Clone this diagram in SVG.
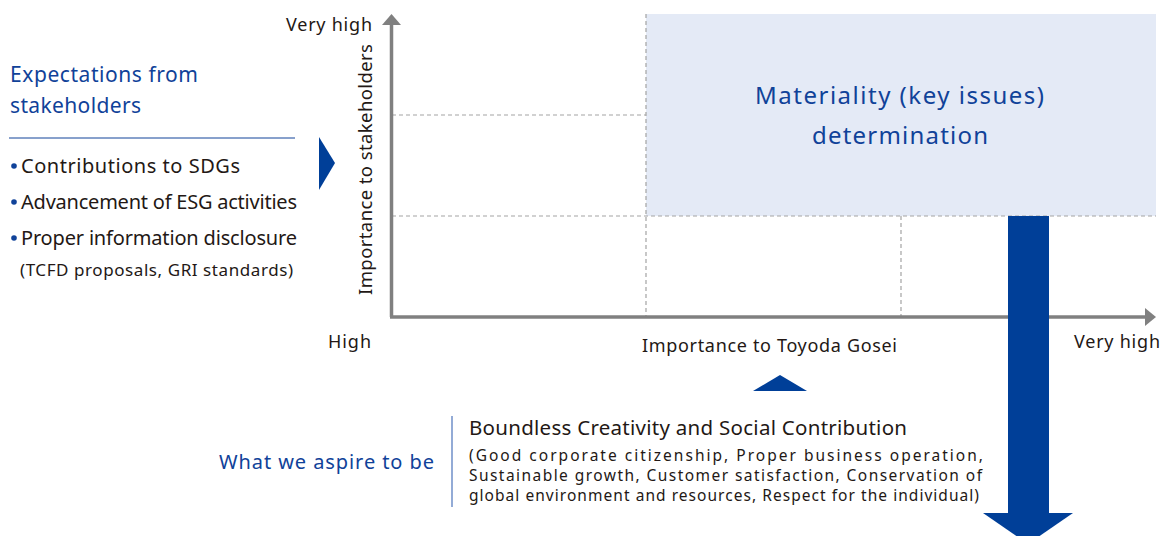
<svg xmlns="http://www.w3.org/2000/svg" width="1162" height="536" viewBox="0 0 1162 536">
<style>
text{font-family:"Noto Sans","Open Sans",sans-serif;}
.blue{fill:#104299;}
.dark{fill:#231815;}
.dash{stroke:#a3a3a3;stroke-width:1.2;stroke-dasharray:4 3;fill:none;}
.axis{stroke:#808080;stroke-width:3.5;fill:none;}
</style>
<rect x="646" y="14" width="510" height="202" fill="#e4eaf6"/>
<g id="connectors">
<line class="dash" x1="392" y1="115" x2="646" y2="115"/>
<line class="dash" x1="392" y1="216" x2="1156" y2="216"/>
<line class="dash" x1="646" y1="14" x2="646" y2="317"/>
<line class="dash" x1="901" y1="216" x2="901" y2="317"/>
<line class="axis" x1="391.5" y1="24" x2="391.5" y2="317"/>
<line class="axis" x1="390" y1="317" x2="1146" y2="317"/>
<polygon points="382,25 391.5,14 401,25" fill="#808080"/>
<polygon points="1145,308 1156,317 1145,326" fill="#808080"/>
<rect x="1008" y="216" width="41" height="298" fill="#003f98"/>
<polygon points="983,513 1073,513 1028,544" fill="#003f98"/>
<polygon points="753,391 780,375 807,391" fill="#003f98"/>
<polygon points="319,137 335,163 319,190" fill="#003f98"/>
</g>
<g id="stakeholders">
<text class="blue" x="10" y="82" font-size="21" textLength="188">Expectations from</text>
<text class="blue" x="10" y="113" font-size="21" textLength="131">stakeholders</text>
<line x1="9" y1="138" x2="295" y2="138" stroke="#104299" stroke-width="1"/>
<circle cx="14" cy="166" r="2.8" fill="#104299"/>
<circle cx="14" cy="202" r="2.8" fill="#104299"/>
<circle cx="14" cy="238" r="2.8" fill="#104299"/>
<text class="dark" x="21" y="173" font-size="20" textLength="219">Contributions to SDGs</text>
<text class="dark" x="21" y="209" font-size="20" textLength="276">Advancement of ESG activities</text>
<text class="dark" x="21" y="245" font-size="20" textLength="276">Proper information disclosure</text>
<text class="dark" x="20" y="276" font-size="17" textLength="273">(TCFD proposals, GRI standards)</text>
</g>
<g id="chart-labels">
<text class="dark" x="286" y="31" font-size="18" textLength="86">Very high</text>
<text class="dark" transform="translate(372,295) rotate(-90)" x="0" y="0" font-size="18.5" textLength="251">Importance to stakeholders</text>
<text class="dark" x="328" y="348" font-size="18" textLength="43">High</text>
<text class="dark" x="642" y="352" font-size="18" textLength="255">Importance to Toyoda Gosei</text>
<text class="dark" x="1074" y="348" font-size="18" textLength="86">Very high</text>
</g>
<g id="materiality">
<text class="blue" x="755" y="104" font-size="24" textLength="289">Materiality (key issues)</text>
<text class="blue" x="812" y="144" font-size="24" textLength="176">determination</text>
</g>
<g id="aspire">
<text class="blue" x="219" y="469" font-size="20" textLength="215">What we aspire to be</text>
<line x1="452" y1="416" x2="452" y2="507" stroke="#6f8fc9" stroke-width="1.5"/>
<text class="dark" x="469" y="435" font-size="20.5" textLength="438">Boundless Creativity and Social Contribution</text>
<text class="dark" x="469" y="461" font-size="15.5" textLength="514">(Good corporate citizenship, Proper business operation,</text>
<text class="dark" x="469" y="481" font-size="15.5" textLength="513">Sustainable growth, Customer satisfaction, Conservation of</text>
<text class="dark" x="469" y="501" font-size="15.5" textLength="510">global environment and resources, Respect for the individual)</text>
</g>
</svg>
